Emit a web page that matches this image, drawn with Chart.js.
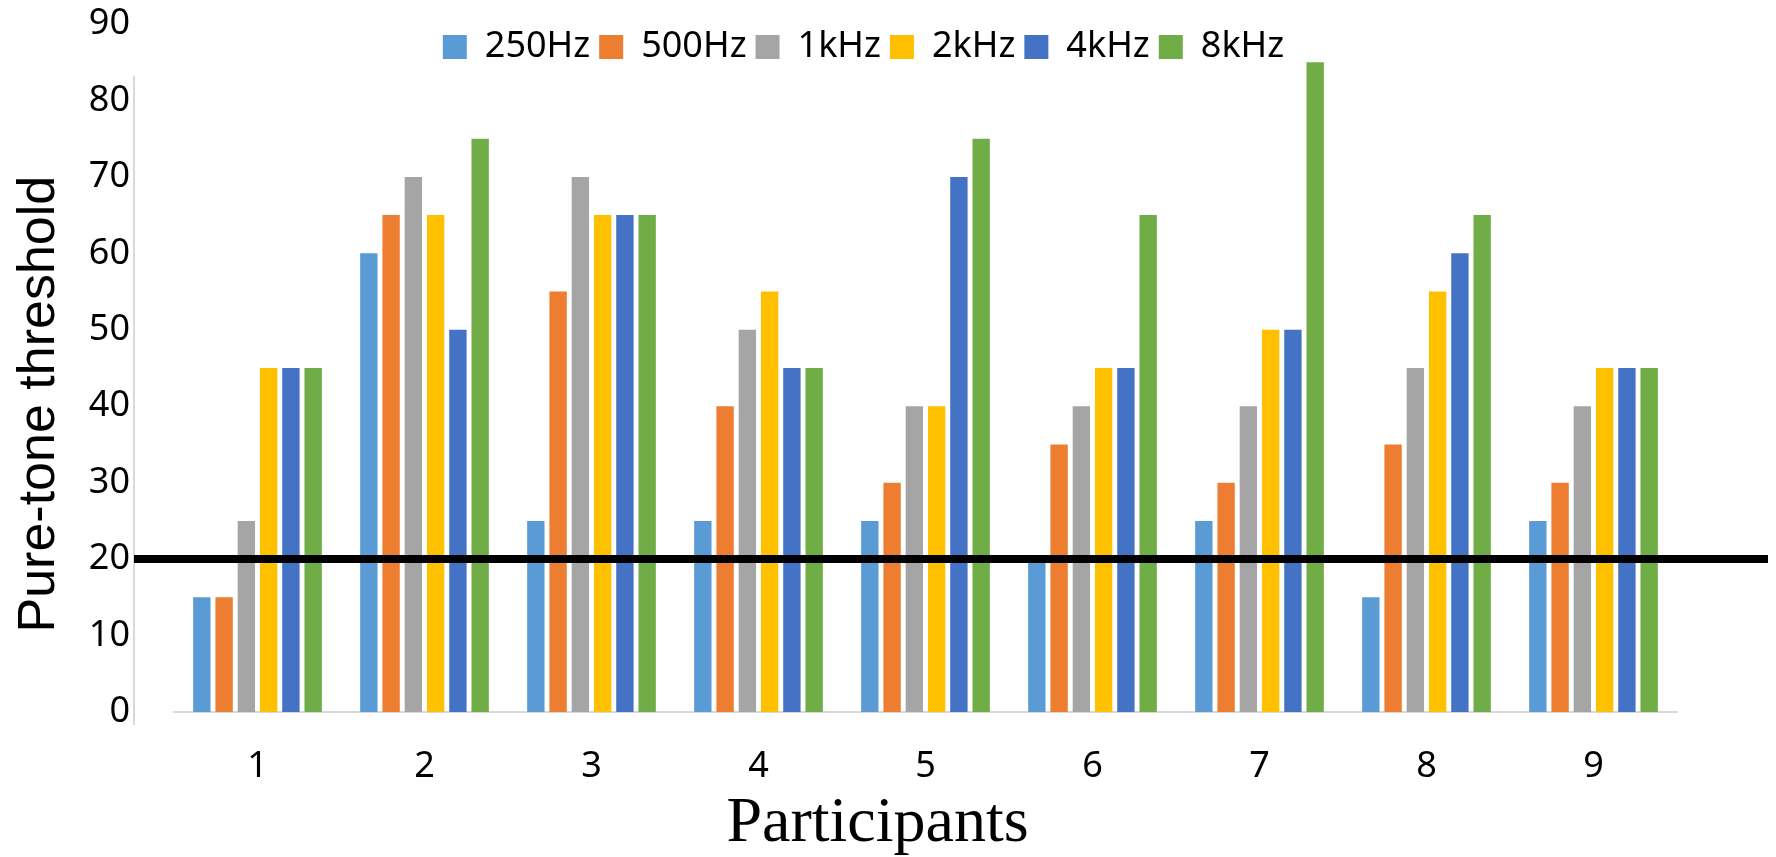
<!DOCTYPE html>
<html>
<head>
<meta charset="utf-8">
<script src="https://cdn.jsdelivr.net/npm/chart.js@4.4.1/dist/chart.umd.min.js"></script>
<style>
  html, body { margin: 0; padding: 0; background: #ffffff; }
  #wrap { width: 1776px; height: 857px; }
</style>
</head>
<body>
<div id="wrap"><canvas id="toneChart" width="1776" height="857"></canvas></div>
<script>
// values (dB HL per participant)
const participants = ['1', '2', '3', '4', '5', '6', '7', '8', '9'];
const freqLabels = ['250Hz', '500Hz', '1kHz', '2kHz', '4kHz', '8kHz'];
const hz250 = [15, 60, 25, 25, 25, 20, 25, 15, 25];
const hz500 = [15, 65, 55, 40, 30, 35, 30, 35, 30];
const khz1 = [25, 70, 70, 50, 40, 40, 40, 45, 40];
const khz2 = [45, 65, 65, 55, 40, 45, 50, 55, 45];
const khz4 = [45, 50, 65, 45, 70, 45, 50, 60, 45];
const khz8 = [45, 75, 65, 45, 75, 65, 85, 65, 45];
const yMin = 0;
const yMax = 90;
const yStep = 10;
const threshold = 20;

const colors = ['#5B9BD5', '#ED7D31', '#A5A5A5', '#FFC000', '#4472C4', '#70AD47'];
const seriesValues = [hz250, hz500, khz1, khz2, khz4, khz8];

const datasets = freqLabels.map((name, i) => ({
    label: name,
    data: seriesValues[i],
    backgroundColor: colors[i],
    borderWidth: 0,
    categoryPercentage: 0.8,
    barPercentage: 0.78
}));

// legend sits over the plot area, so it must not take any layout height
const legendOverlay = {
    id: 'legendOverlay',
    beforeLayout(chart) {
        const lg = chart.legend;
        if (lg && !lg._noHeight) {
            const fit = lg.fit.bind(lg);
            lg.fit = function () {
                fit();
                this._realHeight = this.height;
                this.height = 0;
            };
            lg._noHeight = true;
        }
    },
    afterLayout(chart) {
        const lg = chart.legend;
        if (!lg) return;
        lg.height = lg._realHeight || 0;
        lg.top = chart.chartArea.top - 4;
        lg.bottom = lg.top + lg.height;
        lg.left += 25;
        lg.right += 25;
    }
};

// y axis line and the black 20 dB reference line
const axisLines = {
    id: 'axisLines',
    beforeDatasetsDraw(chart) {
        const ctx = chart.ctx;
        const area = chart.chartArea;
        ctx.save();
        ctx.strokeStyle = '#d9d9d9';
        ctx.lineWidth = 2;
        ctx.beginPath();
        ctx.moveTo(area.left - 40, area.top + 52);
        ctx.lineTo(area.left - 40, area.bottom + 13);
        ctx.stroke();
        ctx.restore();
    },
    afterDatasetsDraw(chart) {
        const ctx = chart.ctx;
        const area = chart.chartArea;
        const y = chart.scales.y.getPixelForValue(threshold);
        ctx.save();
        ctx.strokeStyle = '#000000';
        ctx.lineWidth = 8;
        ctx.beginPath();
        ctx.moveTo(area.left - 40, y);
        ctx.lineTo(chart.width - 8, y);
        ctx.stroke();
        ctx.restore();
    }
};

const ctx = document.getElementById('toneChart').getContext('2d');
const toneChart = new Chart(ctx, {
    type: 'bar',
    data: {
        labels: participants,
        datasets: datasets
    },
    options: {
        responsive: false,
        animation: false,
        layout: {
            padding: { top: 24, right: 99, bottom: 0, left: 0 }
        },
        plugins: {
            legend: {
                position: 'top',
                align: 'center',
                labels: {
                    boxWidth: 24,
                    boxHeight: 24,
                    padding: 9,
                    color: '#000000',
                    font: { family: 'Noto Sans', size: 36 }
                }
            },
            tooltip: { enabled: false }
        },
        scales: {
            x: {
                grid: { display: false, drawTicks: false },
                border: { display: true, color: '#d9d9d9', width: 2 },
                ticks: {
                    color: '#000000',
                    padding: 33,
                    font: { family: 'Noto Sans', size: 36 }
                },
                title: {
                    display: true,
                    text: 'Participants\u00A0\u00A0\u00A0\u00A0\u00A0\u00A0',
                    color: '#000000',
                    padding: { top: 0, bottom: -6 },
                    font: { family: 'Liberation Serif', size: 64 }
                },
                afterFit(scale) {
                    scale.height = 145;
                    scale.paddingLeft = 0;
                    scale.paddingRight = 0;
                }
            },
            y: {
                min: yMin,
                max: yMax,
                grid: { display: false, drawTicks: false },
                border: { display: false },
                ticks: {
                    stepSize: yStep,
                    color: '#000000',
                    padding: 44,
                    font: { family: 'Noto Sans', size: 36 }
                },
                title: {
                    display: true,
                    text: 'Pure-tone threshold\u00A0\u00A0\u00A0\u00A0\u00A0',
                    color: '#000000',
                    padding: { top: 8, bottom: 0 },
                    font: { family: 'Liberation Sans', size: 52 }
                },
                afterFit(scale) {
                    scale.width = 174;
                    scale.paddingTop = 0;
                    scale.paddingBottom = 0;
                }
            }
        }
    },
    plugins: [legendOverlay, axisLines]
});
</script>
</body>
</html>
